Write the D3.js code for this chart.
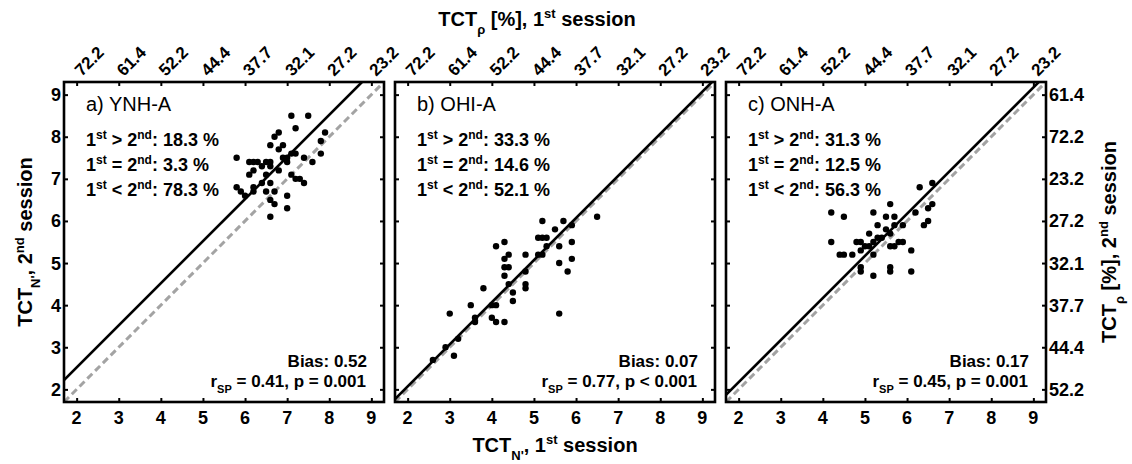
<!DOCTYPE html>
<html>
<head>
<meta charset="utf-8">
<script src="https://cdn.jsdelivr.net/npm/d3@7"></script>
<style>
    html, body { margin: 0; padding: 0; background: #fff; }
    svg { display: block; font-family: "Liberation Sans", Arial, Helvetica, sans-serif; }
</style>
</head>
<body>
<svg id="chart" width="1132" height="464"></svg>
<script>
// Test-retest scatter panels (1st vs 2nd session) with identity and bias lines

const TICK_VALUES = [2, 3, 4, 5, 6, 7, 8, 9];
const TOP_TICK_LABELS = ["72.2", "61.4", "52.2", "44.4", "37.7", "32.1", "27.2", "23.2"];
const RIGHT_TICK_LABELS = ["52.2", "44.4", "37.7", "32.1", "27.2", "23.2", "72.2", "61.4"];

const PANEL_NAMES = ["a) YNH-A", "b) OHI-A", "c) ONH-A"];
const PCT_GREATER = [18.3, 33.3, 31.3];
const PCT_EQUAL = [3.3, 14.6, 12.5];
const PCT_LESS = [78.3, 52.1, 56.3];
const BIAS = [0.52, 0.07, 0.17];
const R_SP = [0.41, 0.77, 0.45];
const P_TEXT = ["p = 0.001", "p < 0.001", "p = 0.001"];

// [1st session, 2nd session]
const YNH_A = [
    [7.1, 8.5], [7.5, 8.5], [7.2, 8.2], [6.8, 8.1], [6.7, 8.0], [7.9, 8.1],
    [6.6, 7.8], [6.9, 7.8], [6.8, 7.7], [7.8, 7.9], [7.8, 7.6], [5.8, 7.5],
    [7.6, 7.4], [6.1, 7.4], [6.2, 7.4], [6.3, 7.4], [6.5, 7.4], [6.4, 7.3],
    [6.6, 7.3], [6.9, 7.5], [7.0, 7.5], [7.1, 7.6], [7.2, 7.6], [7.0, 7.4],
    [7.4, 7.5], [6.2, 7.2], [6.1, 7.1], [6.5, 7.1], [6.8, 7.2], [7.1, 7.1],
    [7.2, 7.0], [7.3, 7.0], [7.4, 6.9], [6.4, 6.9], [6.6, 6.9], [5.8, 6.8],
    [5.9, 6.7], [6.0, 6.6], [6.2, 6.8], [6.2, 6.7], [6.5, 6.7], [6.7, 6.7],
    [7.0, 6.6], [6.6, 6.5], [6.7, 6.4], [7.0, 6.3], [6.6, 6.1], [6.6, 7.4]
];
const OHI_A = [
    [5.2, 6.0], [5.7, 6.0], [5.9, 5.9], [5.5, 5.8], [5.1, 5.6], [5.2, 5.6],
    [5.3, 5.6], [5.9, 5.5], [4.3, 5.5], [4.1, 5.4], [5.3, 5.4], [5.6, 5.4],
    [5.1, 5.2], [5.2, 5.2], [4.4, 5.2], [4.8, 5.2], [4.3, 5.1], [5.9, 5.1],
    [5.6, 5.0], [4.3, 4.9], [4.4, 4.9], [4.8, 4.8], [4.3, 4.7], [5.8, 4.8],
    [4.4, 4.5], [4.8, 4.5], [4.8, 4.4], [3.8, 4.4], [4.5, 4.3], [4.5, 4.1],
    [4.0, 4.0], [4.1, 4.0], [3.5, 4.0], [3.0, 3.8], [5.6, 3.8], [3.6, 3.7],
    [3.6, 3.6], [4.0, 3.7], [4.1, 3.6], [4.3, 3.6], [3.2, 3.2], [2.9, 3.0],
    [3.1, 2.8], [2.6, 2.7], [6.5, 6.1]
];
const ONH_A = [
    [6.6, 6.9], [6.3, 6.8], [6.6, 6.4], [6.5, 6.3], [5.6, 6.4], [6.2, 6.2],
    [5.2, 6.2], [5.5, 6.1], [5.7, 6.1], [6.5, 6.0], [6.4, 5.9], [5.3, 5.9],
    [5.7, 5.9], [5.9, 5.9], [5.5, 5.8], [5.6, 5.7], [5.1, 5.7], [5.4, 5.6],
    [4.8, 5.5], [4.9, 5.5], [5.2, 5.5], [5.8, 5.5], [5.9, 5.5], [5.1, 5.4],
    [5.6, 5.4], [5.7, 5.4], [4.9, 5.3], [5.2, 5.2], [6.1, 5.3], [4.7, 5.2],
    [4.9, 4.9], [5.6, 4.9], [5.6, 4.8], [4.9, 4.8], [6.1, 4.8], [5.2, 4.7],
    [4.2, 6.2], [4.5, 6.1], [4.2, 5.5], [4.4, 5.2], [4.5, 5.2], [5.3, 5.6],
    [5.0, 5.4]
];
const PANEL_POINTS = [YNH_A, OHI_A, ONH_A];

const DOMAIN = [1.7, 9.3];
const PANEL_LEFTS = [64, 395, 726];
const PANEL_TOP = 82;
const PANEL_SIZE = 320;
const FONT_BIG = 20;
const FONT_TICK = 18;

const svg = d3.select("#chart");

// Text with sub/superscript parts: [{t, sup}, {t, sub}, ...]
function richText(parent, x, y, parts, size, weight) {
    const t = parent.append("text")
        .attr("x", x)
        .attr("y", y)
        .attr("font-size", size + "px")
        .attr("font-weight", weight)
        .attr("fill", "#000");
    let shift = 0;
    parts.forEach(p => {
        const off = p.sup ? -size * 0.4 : p.sub ? size * 0.38 : 0;
        t.append("tspan")
            .attr("dy", off - shift)
            .attr("font-size", (p.sup || p.sub) ? Math.round(size * 0.66) + "px" : null)
            .text(p.t);
        shift = off;
    });
    return t;
}

function drawPanel(i) {
    const left = PANEL_LEFTS[i];
    const x = d3.scaleLinear().domain(DOMAIN).range([left, left + PANEL_SIZE]);
    const y = d3.scaleLinear().domain(DOMAIN).range([PANEL_TOP + PANEL_SIZE, PANEL_TOP]);
    const g = svg.append("g").attr("class", "panel");

    const clipId = "clip-" + i;
    g.append("clipPath").attr("id", clipId)
        .append("rect")
        .attr("x", left).attr("y", PANEL_TOP)
        .attr("width", PANEL_SIZE).attr("height", PANEL_SIZE);

    // Identity line (dashed grey) and bias line (solid black)
    g.append("line")
        .attr("clip-path", `url(#${clipId})`)
        .attr("x1", x(DOMAIN[0])).attr("y1", y(DOMAIN[0]))
        .attr("x2", x(DOMAIN[1])).attr("y2", y(DOMAIN[1]))
        .attr("stroke", "#a3a3a3")
        .attr("stroke-width", 3)
        .attr("stroke-dasharray", "7,4");

    g.append("line")
        .attr("clip-path", `url(#${clipId})`)
        .attr("x1", x(DOMAIN[0])).attr("y1", y(DOMAIN[0] + BIAS[i]))
        .attr("x2", x(DOMAIN[1])).attr("y2", y(DOMAIN[1] + BIAS[i]))
        .attr("stroke", "#000")
        .attr("stroke-width", 2.6);

    g.selectAll("circle.pt")
        .data(PANEL_POINTS[i])
        .join("circle")
        .attr("class", "pt")
        .attr("cx", d => x(d[0]))
        .attr("cy", d => y(d[1]))
        .attr("r", 3.2)
        .attr("fill", "#000");

    // Axes, ticks inside the box
    const axes = [
        d3.axisBottom(x).tickValues(TICK_VALUES).tickSizeInner(-4).tickSizeOuter(0).tickFormat(""),
        d3.axisTop(x).tickValues(TICK_VALUES).tickSizeInner(-4).tickSizeOuter(0).tickFormat(""),
        d3.axisLeft(y).tickValues(TICK_VALUES).tickSizeInner(-4).tickSizeOuter(0).tickFormat(""),
        d3.axisRight(y).tickValues(TICK_VALUES).tickSizeInner(-4).tickSizeOuter(0).tickFormat("")
    ];
    const pos = [
        `translate(0,${PANEL_TOP + PANEL_SIZE})`, `translate(0,${PANEL_TOP})`,
        `translate(${left},0)`, `translate(${left + PANEL_SIZE},0)`
    ];
    axes.forEach((ax, k) => {
        const a = g.append("g").attr("transform", pos[k]).call(ax);
        a.select(".domain").remove();
        a.selectAll(".tick line").attr("stroke", "#000").attr("stroke-width", 2);
    });

    g.append("rect")
        .attr("x", left).attr("y", PANEL_TOP)
        .attr("width", PANEL_SIZE).attr("height", PANEL_SIZE)
        .attr("fill", "none")
        .attr("stroke", "#000")
        .attr("stroke-width", 2.6);

    // Tick labels
    g.selectAll("text.xlab")
        .data(TICK_VALUES)
        .join("text")
        .attr("class", "xlab")
        .attr("x", d => x(d))
        .attr("y", 424)
        .attr("text-anchor", "middle")
        .attr("font-size", FONT_TICK + "px")
        .attr("font-weight", "bold")
        .text(d => d);

    g.selectAll("text.toplab")
        .data(TICK_VALUES)
        .join("text")
        .attr("class", "toplab")
        .attr("transform", d => `translate(${x(d) + 5},${PANEL_TOP - 5}) rotate(-45)`)
        .attr("font-size", "17px")
        .attr("font-weight", "bold")
        .text((d, k) => TOP_TICK_LABELS[k]);

    if (i === 0) {
        g.selectAll("text.ylab")
            .data(TICK_VALUES)
            .join("text")
            .attr("class", "ylab")
            .attr("x", left - 3)
            .attr("y", d => y(d))
            .attr("dy", "0.36em")
            .attr("text-anchor", "end")
            .attr("font-size", FONT_TICK + "px")
            .attr("font-weight", "bold")
            .text(d => d);
    }
    if (i === 2) {
        g.selectAll("text.rlab")
            .data(TICK_VALUES)
            .join("text")
            .attr("class", "rlab")
            .attr("x", left + PANEL_SIZE + 3)
            .attr("y", d => y(d))
            .attr("dy", "0.36em")
            .attr("font-size", FONT_TICK + "px")
            .attr("font-weight", "bold")
            .text((d, k) => RIGHT_TICK_LABELS[k]);
    }

    // Annotations
    g.append("text")
        .attr("x", left + 22)
        .attr("y", PANEL_TOP + 29)
        .attr("font-size", FONT_BIG + "px")
        .text(PANEL_NAMES[i]);

    const stats = [[" > 2", PCT_GREATER[i]], [" = 2", PCT_EQUAL[i]], [" < 2", PCT_LESS[i]]];
    stats.forEach((s, k) => {
        richText(g, left + 22, PANEL_TOP + 64 + k * 25, [
            { t: "1" }, { t: "st", sup: true }, { t: s[0] }, { t: "nd", sup: true },
            { t: `: ${s[1].toFixed(1)} %` }
        ], 18, "bold");
    });

    g.append("text")
        .attr("x", left + 303)
        .attr("y", PANEL_TOP + 285)
        .attr("text-anchor", "end")
        .attr("font-size", "17px")
        .attr("font-weight", "bold")
        .text(`Bias: ${BIAS[i].toFixed(2)}`);

    richText(g, left + 302, PANEL_TOP + 305, [
        { t: "r" }, { t: "SP", sub: true }, { t: ` = ${R_SP[i].toFixed(2)}, ${P_TEXT[i]}` }
    ], 17, "bold").attr("text-anchor", "end");
}

PANEL_NAMES.forEach((n, i) => drawPanel(i));

// Axis titles
richText(svg, 555, 452, [
    { t: "TCT" }, { t: "N'", sub: true }, { t: ", 1" }, { t: "st", sup: true }, { t: " session" }
], FONT_BIG, "bold").attr("text-anchor", "middle");

richText(svg, 537, 26, [
    { t: "TCT" }, { t: "ρ", sub: true }, { t: " [%], 1" }, { t: "st", sup: true }, { t: " session" }
], FONT_BIG, "bold").attr("text-anchor", "middle");

richText(svg, 0, 0, [
    { t: "TCT" }, { t: "N'", sub: true }, { t: ", 2" }, { t: "nd", sup: true }, { t: " session" }
], FONT_BIG, "bold")
    .attr("text-anchor", "middle")
    .attr("transform", "translate(32,242) rotate(-90)");

richText(svg, 0, 0, [
    { t: "TCT" }, { t: "ρ", sub: true }, { t: " [%], 2" }, { t: "nd", sup: true }, { t: " session" }
], FONT_BIG, "bold")
    .attr("text-anchor", "middle")
    .attr("transform", "translate(1116,242) rotate(-90)");
</script>
</body>
</html>
